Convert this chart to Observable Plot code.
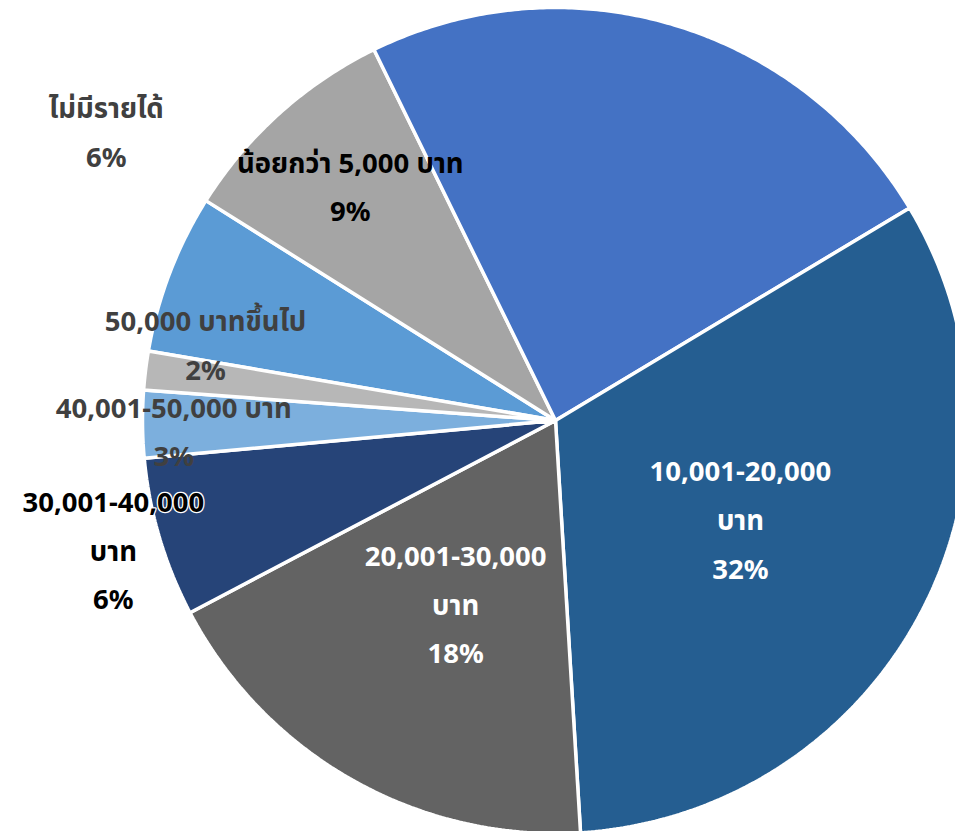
<!DOCTYPE html>
<html>
<head>
<meta charset="utf-8">
<script src="https://cdn.jsdelivr.net/npm/d3@7"></script>
<script src="https://cdn.jsdelivr.net/npm/@observablehq/plot@0.6"></script>
<style>
  html, body { margin: 0; padding: 0; background: #fff; overflow: hidden; }
  #chart svg { display: block; }
</style>
</head>
<body>
<div id="chart"></div>
<script>
// ---- data ----
const categories = [
  "ไม่มีรายได้",
  "น้อยกว่า 5,000 บาท",
  "5,001-10,000 บาท",
  "10,001-20,000 บาท",
  "20,001-30,000 บาท",
  "30,001-40,000 บาท",
  "40,001-50,000 บาท",
  "50,000 บาทขึ้นไป"
];
const shares = [6.24, 8.82, 23.64, 32.64, 18.26, 6.25, 2.63, 1.52];
const percentLabels = ["6%", "9%", "", "32%", "18%", "6%", "3%", "2%"];
const labelTexts = [
  "ไม่มีรายได้",
  "น้อยกว่า 5,000 บาท",
  "",
  "10,001-20,000\nบาท",
  "20,001-30,000\nบาท",
  "30,001-40,000\nบาท",
  "40,001-50,000 บาท",
  "50,000 บาทขึ้นไป"
];
const sliceColors = ["#5B9BD5", "#A5A5A5", "#4472C4", "#255E91", "#636363", "#264478", "#7CAFDD", "#B7B7B7"];
const labelColors = ["#404040", "#000000", "#ffffff", "#ffffff", "#ffffff", "#000000", "#404040", "#404040"];

// ---- layout of labels (polar: radius fraction and angle nudge in degrees) ----
const labelRadius = [1.29, 0.75, 0.6, 0.51, 0.51, 1.117, 0.925, 0.866];
const labelAngleNudge = [11.57, 0.46, 0, 0.83, -1.09, -0.1, -1.45, 4.93];
const startAngle = 279.7; // degrees clockwise from 12 o'clock

const total = d3.sum(shares);
const rad = Math.PI / 180;

// build slice outlines
const pts = [];
const labels = [];
let acc = startAngle;
categories.forEach((c, i) => {
  const a0 = acc;
  const a1 = acc + shares[i] / total * 360;
  acc = a1;
  pts.push({cat: c, x: 0, y: 0, color: sliceColors[i]});
  const n = Math.max(2, Math.ceil((a1 - a0) / 0.5));
  for (let k = 0; k <= n; k++) {
    const a = (a0 + (a1 - a0) * k / n) * rad;
    pts.push({cat: c, x: Math.sin(a), y: Math.cos(a), color: sliceColors[i]});
  }
  pts.push({cat: c, x: 0, y: 0, color: sliceColors[i]});
  const am = ((a0 + a1) / 2 + labelAngleNudge[i]) * rad;
  if (percentLabels[i]) {
    labels.push({
      text: labelTexts[i] + "\n" + percentLabels[i],
      x: Math.sin(am) * labelRadius[i],
      y: Math.cos(am) * labelRadius[i],
      color: labelColors[i],
      halo: i === 5
    });
  }
});

const R = 413, cx = 555, cy = 420;
const fontFamily = "'Noto Sans', 'Noto Sans Thai', 'Noto Sans Thai UI', Tahoma, sans-serif";
const fs = 27.5, lh = 1.77, dy = -7;

const chart = Plot.plot({
  width: 955,
  height: 831,
  margin: 0,
  x: {domain: [-1, 1], range: [cx - R, cx + R], axis: null},
  y: {domain: [-1, 1], range: [cy + R, cy - R], axis: null},
  style: {fontFamily, background: "#fff", overflow: "hidden"},
  marks: [
    Plot.line(pts, {
      x: "x", y: "y", z: "cat",
      fill: "color",
      stroke: "#ffffff",
      strokeWidth: 3.5,
      strokeLinejoin: "miter",
      curve: "linear"
    }),
    Plot.text(labels.filter(d => d.halo), {
      x: "x", y: "y", text: "text",
      fill: "#000",
      stroke: "#ffffff",
      strokeWidth: 2.5,
      fontSize: fs,
      fontWeight: "bold",
      lineHeight: lh,
      dy
    }),
    Plot.text(labels.filter(d => !d.halo), {
      x: "x", y: "y", text: "text",
      fill: "color",
      fontSize: fs,
      fontWeight: "bold",
      lineHeight: lh,
      dy
    })
  ]
});
document.getElementById("chart").appendChild(chart);
</script>
</body>
</html>
